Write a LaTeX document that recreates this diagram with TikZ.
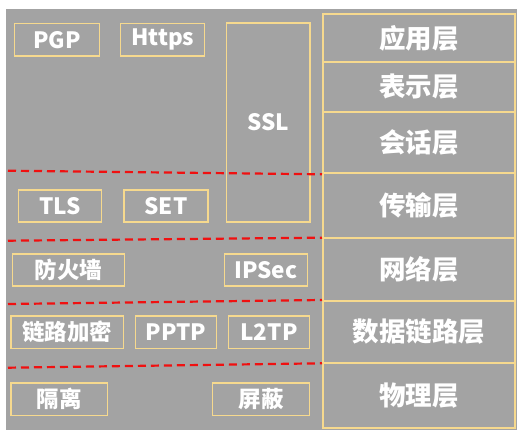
\documentclass[tikz,border=0pt]{standalone}
\usepackage{fontspec}
\setmainfont{Noto Sans CJK SC}
\definecolor{bg}{HTML}{A3A3A3}
\definecolor{edge}{HTML}{F6D98E}
\definecolor{sep}{HTML}{F01010}
\tikzset{
  layer/.style={draw=edge, line width=1.5pt, minimum width=192pt, text=white, font=\bfseries\fontsize{26.5}{26.5}\selectfont, inner sep=0pt},
  proto/.style={draw=edge, line width=1.3pt, text=white, font=\bfseries\fontsize{22.5}{22.5}\selectfont, inner sep=0pt},
  divider/.style={draw=sep, line width=2.2pt, dash pattern=on 8pt off 5pt}
}
\begin{document}
\begin{tikzpicture}[x=1pt,y=-1pt]
\fill[white] (0,0) rectangle (523,436);
\useasboundingbox (0,0) rectangle (523,436);
\fill[bg] (6,9) rectangle (517,430);
% layers
\node[layer, minimum height=48pt] (app) at (419,38) {应用层};
\node[layer, minimum height=50pt] (pres) at (419,87) {表示层};
\node[layer, minimum height=61pt] (sess) at (419,142.5) {会话层};
\node[layer, minimum height=65pt] (trans) at (419,205.5) {传输层};
\node[layer, minimum height=63pt] (net) at (419,269.5) {网络层};
\node[layer, minimum height=62pt] (dl) at (419,332) {数据链路层};
\node[layer, minimum height=65pt] (phys) at (419,395.5) {物理层};
% protocols
\node[proto, minimum width=84.6pt, minimum height=32.7pt] (pgp) at (57,39.7) {PGP};
\node[proto, minimum width=84pt, minimum height=32.7pt] (https) at (162.7,39.7) {Https};
\node[proto, minimum width=83.3pt, minimum height=199pt] (ssl) at (268.3,122.5) {SSL};
\node[proto, minimum width=83.4pt, minimum height=32pt] (tls) at (60,206) {TLS};
\node[proto, minimum width=84pt, minimum height=32pt] (set) at (166,206) {SET};
\node[proto, minimum width=112.4pt, minimum height=32pt] (fw) at (68.5,270) {防火墙};
\node[proto, minimum width=83.4pt, minimum height=32pt] (ipsec) at (266,270) {IPSec};
\node[proto, minimum width=112.7pt, minimum height=32.7pt] (lenc) at (67.3,332.3) {链路加密};
\node[proto, minimum width=81pt, minimum height=32.7pt] (pptp) at (176.2,332.3) {PPTP};
\node[proto, minimum width=80.6pt, minimum height=32.7pt] (l2tp) at (269,332.3) {L2TP};
\node[proto, minimum width=96.3pt, minimum height=32.3pt] (iso) at (59.2,399.2) {隔离};
\node[proto, minimum width=96.6pt, minimum height=32.3pt] (shield) at (261,399.2) {屏蔽};
% dividers
\coordinate (d1a) at (8,170.7); \coordinate (d1b) at (322,174.3);
\coordinate (d2a) at (8,240.7); \coordinate (d2b) at (322,237.7);
\coordinate (d3a) at (8,304);   \coordinate (d3b) at (322,300);
\coordinate (d4a) at (8,367.7); \coordinate (d4b) at (322,363.3);
\draw[divider] (d1a) -- (d1b);
\draw[divider] (d2a) -- (d2b);
\draw[divider] (d3a) -- (d3b);
\draw[divider] (d4a) -- (d4b);
\end{tikzpicture}
\end{document}
